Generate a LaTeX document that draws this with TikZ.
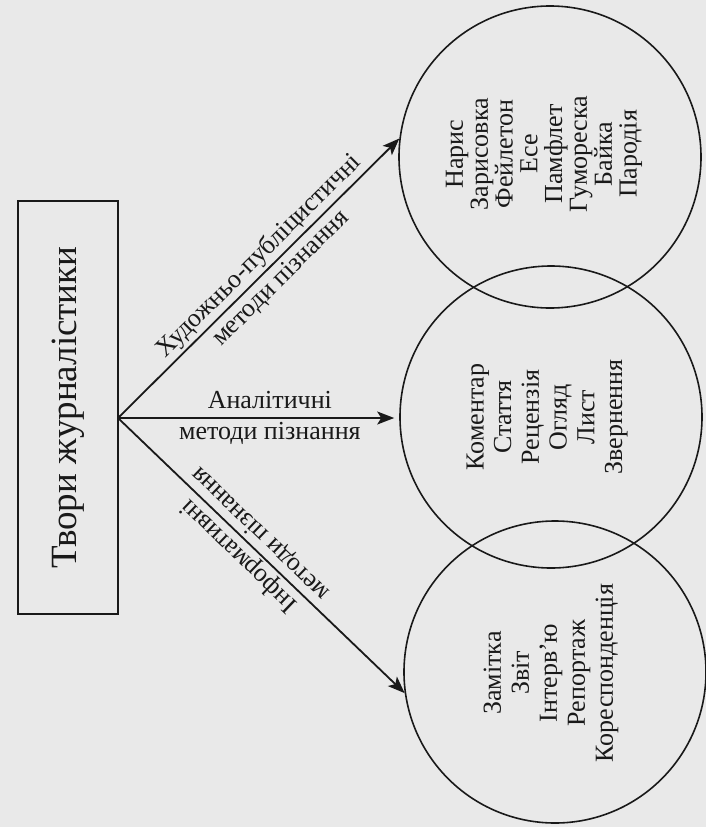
\documentclass[tikz,border=0pt]{standalone}
\usepackage{fontspec}
\setmainfont{Liberation Serif}
\usetikzlibrary{arrows.meta}
\definecolor{paper}{RGB}{233,233,233}
\definecolor{ink}{RGB}{25,25,25}
\tikzset{
  grp/.style={circle, draw=ink, line width=1.6pt, minimum size=302pt, inner sep=0pt},
  genrelist/.style={rotate=90, align=center, text=ink, inner sep=0pt},
  conn/.style={draw=ink, line width=1.8pt, -{Stealth[length=17pt,width=13pt,inset=4pt]}},
  lbl/.style={align=center, font=\fontsize{26}{31}\selectfont, text=ink, inner sep=0pt},
}
\begin{document}
\begin{tikzpicture}[x=1pt,y=-1pt]
\fill[paper] (0,0) rectangle (706,827);
\useasboundingbox (0,0) rectangle (706,827);
% left box
\node[draw=ink, line width=2.5pt, minimum width=100pt, minimum height=413pt, inner sep=0pt] (box) at (68,407.5) {};
\node[rotate=90, font=\fontsize{37}{40}\selectfont, text=ink, inner sep=0pt] (title) at (box.center) {Твори журналістики};
% circles
\node[grp] (c1) at (550,157) {};
\node[grp] (c2) at (551,417) {};
\node[grp] (c3) at (555,672) {};
\node[genrelist, font=\fontsize{26}{24.8}\selectfont] (t1) at (544,154) {Нарис\\Зарисовка\\Фейлетон\\Есе\\Памфлет\\Гумореска\\Байка\\Пародія};
\node[genrelist, font=\fontsize{26}{27.7}\selectfont] (t2) at (547,417) {Коментар\\Стаття\\Рецензія\\Огляд\\Лист\\Звернення};
\node[genrelist, font=\fontsize{26}{28}\selectfont] (t3) at (551,673) {Замітка\\Звіт\\Інтерв’ю\\Репортаж\\Кореспонденція};
% connectors
\coordinate (o) at (118,418);
\draw[conn] (o) -- (c1.173) node[lbl, sloped, pos=0.54] (l1) {Художньо-публіцистичні\\методи пізнання};
\draw[conn, shorten >=5pt] (o) -- (c2.west |- o) node[lbl, pos=0.54] (l2) {Аналітичні\\методи пізнання};
\draw[conn] (o) -- (c3.188) node[lbl, sloped, rotate=180, pos=0.46] (l3) {Інформативні\\методи пізнання};
\end{tikzpicture}
\end{document}
